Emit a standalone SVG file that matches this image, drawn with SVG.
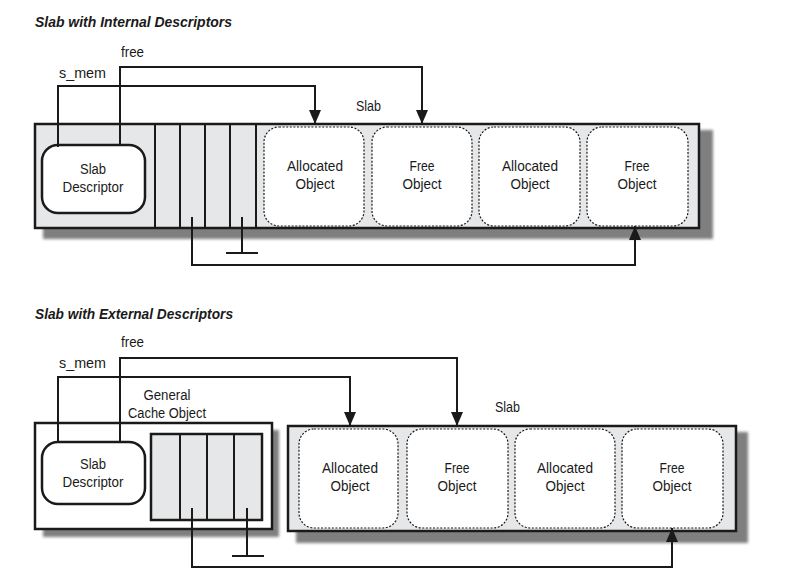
<svg xmlns="http://www.w3.org/2000/svg" width="789" height="574" viewBox="0 0 789 574">
<style>
  text { font-family: "Liberation Sans Narrow", "Liberation Sans", Arial, sans-serif; font-size: 15.5px; fill: #1a1a1a; }
  .title { font-size: 15px; font-weight: bold; font-style: italic; }
  .mid { text-anchor: middle; }
  .box { stroke: #1a1a1a; stroke-width: 2.5; }
  .slab { fill: #e6e7e8; }
  .white { fill: #ffffff; }
  .desc { fill: #ffffff; stroke: #1a1a1a; stroke-width: 2.5; }
  .col { stroke: #1a1a1a; stroke-width: 2; fill: none; }
  .obj { fill: #ffffff; stroke: #1a1a1a; stroke-width: 1.2; stroke-dasharray: 2 1.6; }
  .shadow { fill: #7f7f7f; filter: url(#blur); }
  .conn { fill: none; stroke: #1a1a1a; stroke-width: 2; }
</style>
<defs>
  <filter id="blur" x="-5%" y="-10%" width="110%" height="120%">
    <feGaussianBlur stdDeviation="1.8"/>
  </filter>
  <marker id="arrow" viewBox="0 0 14 12" refX="14" refY="6" markerWidth="14" markerHeight="12" markerUnits="userSpaceOnUse" orient="auto">
    <path d="M0,0 L14,6 L0,12 z" fill="#1a1a1a"/>
  </marker>
</defs>
<rect width="789" height="574" fill="#ffffff"/>

<!-- Top diagram -->
<text class="title" x="35" y="27" textLength="197" lengthAdjust="spacingAndGlyphs">Slab with Internal Descriptors</text>

<g id="slab-internal">
  <rect class="shadow" x="43" y="130" width="670" height="109"/>
  <rect class="box slab" x="35" y="124" width="664" height="104"/>
  <text x="356" y="111" textLength="25" lengthAdjust="spacingAndGlyphs">Slab</text>
</g>
<g id="bufctl-internal">
  <line class="col" x1="155" y1="124" x2="155" y2="228"/>
  <line class="col" x1="180" y1="124" x2="180" y2="228"/>
  <line class="col" x1="205" y1="124" x2="205" y2="228"/>
  <line class="col" x1="230" y1="124" x2="230" y2="228"/>
  <line class="col" x1="256" y1="124" x2="256" y2="228"/>
</g>
<g id="desc-internal">
  <rect class="desc" x="42" y="145" width="103" height="68" rx="16"/>
  <text class="mid" x="93" y="174" textLength="26" lengthAdjust="spacingAndGlyphs">Slab</text>
  <text class="mid" x="93" y="192" textLength="61" lengthAdjust="spacingAndGlyphs">Descriptor</text>
</g>
<g id="obj-i1">
  <rect class="obj" x="264" y="127" width="100" height="99" rx="15"/>
  <text class="mid" x="315" y="171" textLength="56" lengthAdjust="spacingAndGlyphs">Allocated</text>
  <text class="mid" x="315" y="189" textLength="39" lengthAdjust="spacingAndGlyphs">Object</text>
</g>
<g id="obj-i2">
  <rect class="obj" x="372" y="127" width="100" height="99" rx="15"/>
  <text class="mid" x="422" y="171" textLength="25" lengthAdjust="spacingAndGlyphs">Free</text>
  <text class="mid" x="422" y="189" textLength="39" lengthAdjust="spacingAndGlyphs">Object</text>
</g>
<g id="obj-i3">
  <rect class="obj" x="479" y="127" width="101" height="99" rx="15"/>
  <text class="mid" x="530" y="171" textLength="56" lengthAdjust="spacingAndGlyphs">Allocated</text>
  <text class="mid" x="530" y="189" textLength="39" lengthAdjust="spacingAndGlyphs">Object</text>
</g>
<g id="obj-i4">
  <rect class="obj" x="587" y="127" width="101" height="99" rx="15"/>
  <text class="mid" x="637" y="171" textLength="25" lengthAdjust="spacingAndGlyphs">Free</text>
  <text class="mid" x="637" y="189" textLength="39" lengthAdjust="spacingAndGlyphs">Object</text>
</g>

<!-- Bottom diagram -->
<text class="title" x="35" y="319" textLength="198" lengthAdjust="spacingAndGlyphs">Slab with External Descriptors</text>

<g id="general-cache">
  <rect class="shadow" x="43" y="430" width="236" height="107"/>
  <rect class="box white" x="35" y="423" width="237" height="106"/>
  <text class="mid" x="167" y="400" textLength="47" lengthAdjust="spacingAndGlyphs">General</text>
  <text class="mid" x="167" y="418" textLength="78" lengthAdjust="spacingAndGlyphs">Cache Object</text>
</g>
<g id="bufctl-external">
  <rect class="box slab" x="151" y="434" width="111" height="86"/>
  <line class="col" x1="180" y1="434" x2="180" y2="520"/>
  <line class="col" x1="207" y1="434" x2="207" y2="520"/>
  <line class="col" x1="234" y1="434" x2="234" y2="520"/>
</g>
<g id="desc-external">
  <rect class="desc" x="42" y="442" width="103" height="62" rx="16"/>
  <text class="mid" x="93" y="469" textLength="26" lengthAdjust="spacingAndGlyphs">Slab</text>
  <text class="mid" x="93" y="487" textLength="61" lengthAdjust="spacingAndGlyphs">Descriptor</text>
</g>
<g id="slab-external">
  <rect class="shadow" x="296" y="432" width="452" height="111"/>
  <rect class="box slab" x="288" y="426" width="448" height="105"/>
  <text x="495" y="412" textLength="25" lengthAdjust="spacingAndGlyphs">Slab</text>
</g>
<g id="obj-e1">
  <rect class="obj" x="299" y="429" width="99" height="99" rx="15"/>
  <text class="mid" x="350" y="473" textLength="56" lengthAdjust="spacingAndGlyphs">Allocated</text>
  <text class="mid" x="350" y="491" textLength="39" lengthAdjust="spacingAndGlyphs">Object</text>
</g>
<g id="obj-e2">
  <rect class="obj" x="407" y="429" width="101" height="99" rx="15"/>
  <text class="mid" x="457" y="473" textLength="25" lengthAdjust="spacingAndGlyphs">Free</text>
  <text class="mid" x="457" y="491" textLength="39" lengthAdjust="spacingAndGlyphs">Object</text>
</g>
<g id="obj-e3">
  <rect class="obj" x="515" y="429" width="100" height="99" rx="15"/>
  <text class="mid" x="565" y="473" textLength="56" lengthAdjust="spacingAndGlyphs">Allocated</text>
  <text class="mid" x="565" y="491" textLength="39" lengthAdjust="spacingAndGlyphs">Object</text>
</g>
<g id="obj-e4">
  <rect class="obj" x="622" y="429" width="101" height="99" rx="15"/>
  <text class="mid" x="672" y="473" textLength="25" lengthAdjust="spacingAndGlyphs">Free</text>
  <text class="mid" x="672" y="491" textLength="39" lengthAdjust="spacingAndGlyphs">Object</text>
</g>

<!-- Connectors -->
<g id="connectors">
  <path class="conn" d="M58,147 V86 H315 V124" marker-end="url(#arrow)"/>
  <path class="conn" d="M120,145 V67 H422 V124" marker-end="url(#arrow)"/>
  <path class="conn" d="M192,217 V265 H635 V226" marker-end="url(#arrow)"/>
  <path class="conn" d="M242,217 V253 M226,253 H258"/>
  <text x="59" y="78" textLength="47" lengthAdjust="spacingAndGlyphs">s_mem</text>
  <text x="121" y="57" textLength="23" lengthAdjust="spacingAndGlyphs">free</text>

  <path class="conn" d="M58,443 V377 H350 V426" marker-end="url(#arrow)"/>
  <path class="conn" d="M120,443 V358 H457 V426" marker-end="url(#arrow)"/>
  <path class="conn" d="M192,508 V567 H672 V528" marker-end="url(#arrow)"/>
  <path class="conn" d="M247,508 V556 M232,556 H264"/>
  <text x="59" y="368" textLength="47" lengthAdjust="spacingAndGlyphs">s_mem</text>
  <text x="121" y="347" textLength="23" lengthAdjust="spacingAndGlyphs">free</text>
</g>
</svg>
